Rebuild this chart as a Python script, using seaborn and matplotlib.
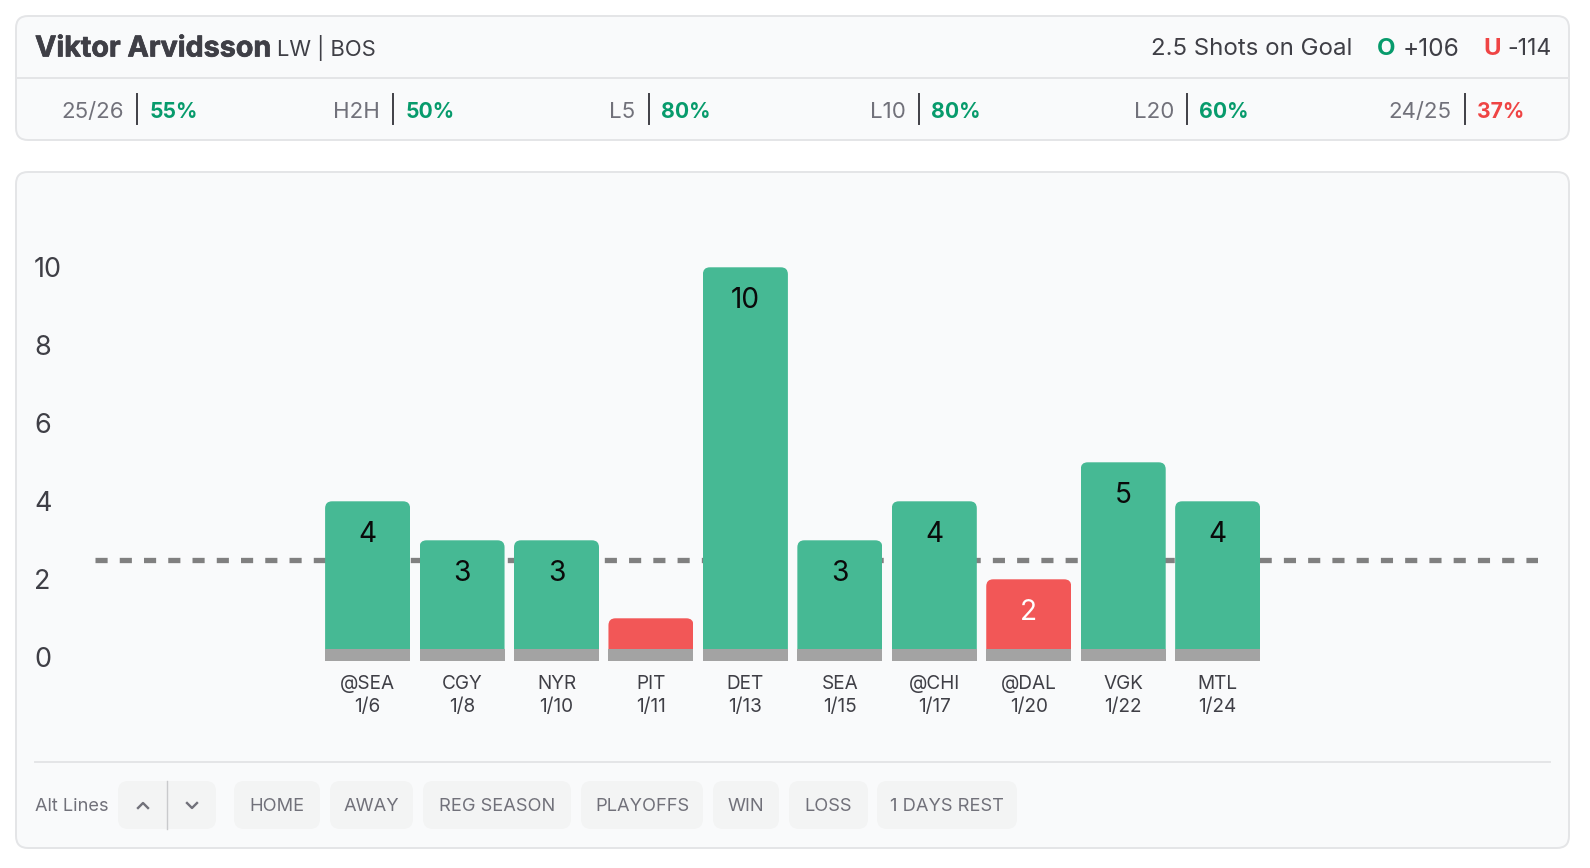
import numpy as np
import pandas as pd
import matplotlib
matplotlib.use("Agg")
import matplotlib.pyplot as plt
import matplotlib.patheffects as pe
from matplotlib.patches import FancyBboxPatch, Rectangle
import seaborn as sns

# data
opponents = ["@SEA", "CGY", "NYR", "PIT", "DET", "SEA", "@CHI", "@DAL", "VGK", "MTL"]
dates = ["1/6", "1/8", "1/10", "1/11", "1/13", "1/15", "1/17", "1/20", "1/22", "1/24"]
shots = [4, 3, 3, 1, 10, 3, 4, 2, 5, 4]
bar_labels = ["4", "3", "3", "", "10", "3", "4", "2", "5", "4"]
line_value = 2.5
y_ticks = [0, 2, 4, 6, 8, 10]

stat_names = ["25/26", "H2H", "L5", "L10", "L20", "24/25"]
stat_values = ["55%", "50%", "80%", "80%", "60%", "37%"]
filter_names = ["HOME", "AWAY", "REG SEASON", "PLAYOFFS", "WIN", "LOSS", "1 DAYS REST"]

GREEN = "#46B994"
RED = "#F25757"
GRAY = "#A3A3A3"
TEXT_GREEN = "#079B6C"
TEXT_RED = "#EF4444"
DARK = "#3F3F46"
MID = "#71717A"
CARD = "#F9FAFB"
BORDER = "#E4E5E7"
FONT = "Inter"

W, H = 1590, 868
plt.rcParams["font.family"] = [FONT, "DejaVu Sans"]

fig = plt.figure(figsize=(W / 100, H / 100), dpi=100, facecolor="white")

# page chrome lives in a pixel axes
bg = fig.add_axes([0, 0, 1, 1], zorder=0)
bg.set_xlim(0, W)
bg.set_ylim(H, 0)
bg.axis("off")


def card(x0, y0, x1, y1, r=12, fc=CARD, ec=BORDER, lw=1.4):
    bg.add_patch(FancyBboxPatch((x0, y0), x1 - x0, y1 - y0, boxstyle=f"round,pad=0,rounding_size={r}",
                                fc=fc, ec=ec, lw=lw))


def px(size):
    return size * 0.72


# top card
card(16, 16, 1569, 140)
bg.plot([16, 1569], [78, 78], color=BORDER, lw=1.4)
title = bg.text(35, 49, "Viktor Arvidsson", fontsize=px(28.7), fontweight="bold", color=DARK, va="center")
title.set_path_effects([pe.withStroke(linewidth=0.5, foreground=DARK)])
bg.text(277, 48, "LW | BOS", fontsize=px(22), color=DARK, va="center")
bg.text(1352, 49, "2.5 Shots on Goal", fontsize=px(24), color=DARK, va="center", ha="right")
bg.text(1377, 49, "O", fontsize=px(24), fontweight="bold", color=TEXT_GREEN, va="center")
bg.text(1403, 49, "+106", fontsize=px(24.5), color=DARK, va="center")
bg.text(1483, 49, "U", fontsize=px(24), fontweight="bold", color=TEXT_RED, va="center")
bg.text(1507, 49, "-114", fontsize=px(23), color=DARK, va="center")

stat_x = [137, 393, 648.5, 919, 1187, 1464.5]
for i, xp in enumerate(stat_x):
    bg.plot([xp, xp], [94, 124], color=DARK, lw=1.4)
    bg.text(xp - 13, 112, stat_names[i], fontsize=px(22.3), color=MID, ha="right", va="center")
    col = TEXT_RED if stat_values[i] == "37%" else TEXT_GREEN
    bg.text(xp + 12.5, 112, stat_values[i], fontsize=px(21.2), fontweight="bold", color=col, va="center")

# chart card
card(16, 172, 1569, 848)
bg.plot([35, 1550], [762, 762], color=BORDER, lw=1.4)

# filter row
bg.text(35, 806.5, "Alt Lines", fontsize=px(18.2), color=MID, va="center")
card(118, 781, 216, 829, r=10, fc="#F3F4F4", ec="none", lw=0)
bg.plot([166.5, 166.5], [781, 829], color="#C9CACC", lw=1)
bg.plot([138, 143, 148], [808, 803, 808], color=MID, lw=1.7)
bg.plot([187, 192, 197], [803, 808, 803], color=MID, lw=1.7)
btn_edges = [(234, 320), (330, 413), (423, 571), (581, 703), (713, 779), (789, 868), (877, 1017)]
for name, (a, b) in zip(filter_names, btn_edges):
    card(a, 781, b, 829, r=10, fc="#F3F4F4", ec="none", lw=0)
    bg.text((a + b) / 2, 806.5, name, fontsize=px(18.3), color=MID, ha="center", va="center")

# chart axes, placed so one category is 94.45 px and one shot is 39 px
ax_left, ax_right = 95.4, 1538.3
ax_top, ax_bottom = 230, 662
first_center, pitch = 367.6, 94.45
bar_w = 85
zero_y, unit = 657.3, 39.0
ax = fig.add_axes([ax_left / W, 1 - ax_bottom / H, (ax_right - ax_left) / W, (ax_bottom - ax_top) / H],
                  zorder=1, facecolor="none")

df = pd.DataFrame({"game": opponents, "shots": shots})
df["hit"] = df["shots"] > line_value
sns.barplot(data=df, x="game", y="shots", hue="hit", palette={True: GREEN, False: RED},
            dodge=False, legend=False, width=bar_w / pitch, saturation=1, ax=ax, zorder=3)

ax.set_xlim((ax_left - first_center) / pitch, (ax_right - first_center) / pitch)
ax.set_ylim((zero_y - ax_bottom) / unit, (zero_y - ax_top) / unit)

# rounded tops through a clip path on the seaborn bars
for p in ax.patches:
    if p.get_height() == 0:
        continue
    clip = FancyBboxPatch((p.get_x(), 0), p.get_width(), p.get_height(),
                          boxstyle=f"round,pad=0,rounding_size={7 / pitch}",
                          mutation_aspect=pitch / unit, transform=ax.transData)
    p.set_clip_path(clip)

# grey strip at the foot of each bar
strip_top, strip_bottom = (zero_y - 649) / unit, (zero_y - 660.7) / unit
for i in range(len(opponents)):
    ax.add_patch(Rectangle((i - bar_w / pitch / 2, strip_bottom), bar_w / pitch, strip_top - strip_bottom,
                           fc=GRAY, ec="none", zorder=4))

ax.axhline(line_value, color="#808080", lw=5.3 * 0.72, dashes=(2.288, 2.288), dash_capstyle="butt", zorder=1)

for i, (val, lab) in enumerate(zip(shots, bar_labels)):
    ax.annotate(lab, (i, val), xytext=(0, -33 * 0.72), textcoords="offset points", ha="center", va="center",
                fontsize=px(28), color="white" if val <= line_value else "#0A0A0A", zorder=5)

ax.set_yticks(y_ticks)
ax.set_xticks(range(len(opponents)))
ax.set_xticklabels([f"{o}\n{d}" for o, d in zip(opponents, dates)], fontsize=px(19), color=DARK, linespacing=1.37)
ax.tick_params(axis="x", length=0, pad=13 * 0.72)
ax.tick_params(axis="y", length=0, pad=61.5 * 0.72, labelsize=px(27), labelcolor=DARK)
for t in ax.get_yticklabels():
    t.set_ha("left")
ax.set_xlabel("")
ax.set_ylabel("")
sns.despine(ax=ax, left=True, bottom=True)

fig.savefig("out.png", dpi=100)
